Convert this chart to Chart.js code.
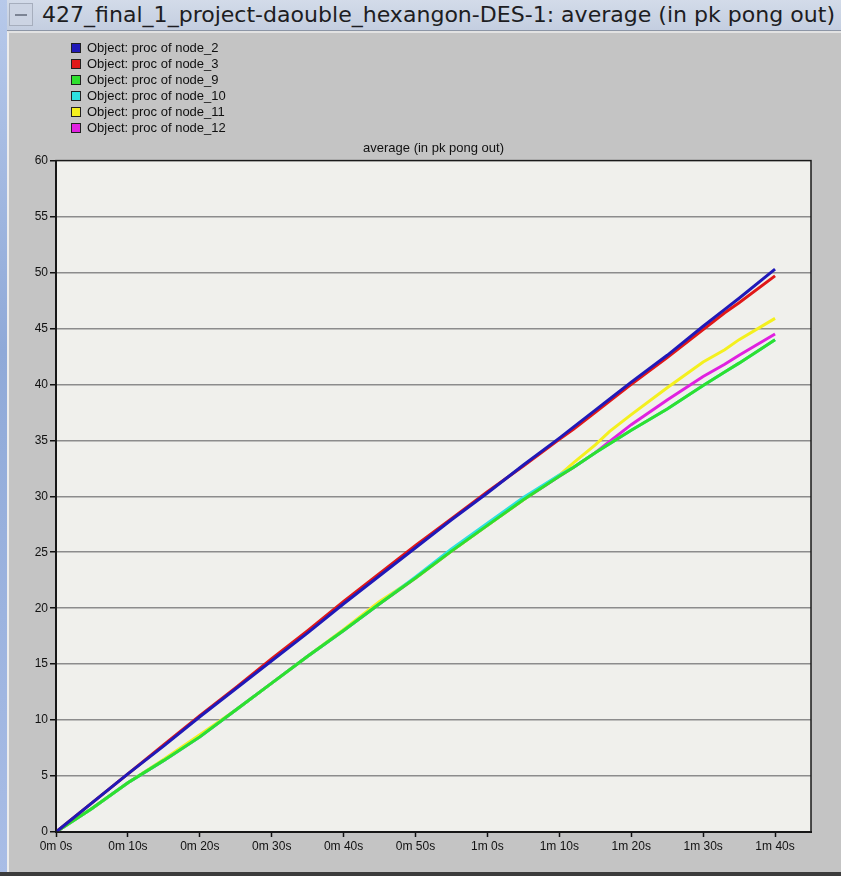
<!DOCTYPE html>
<html>
<head>
<meta charset="utf-8">
<script src="https://cdn.jsdelivr.net/npm/chart.js@4/dist/chart.umd.min.js"></script>
<style>
  html, body { margin: 0; padding: 0; }
  body { width: 841px; height: 876px; position: relative; overflow: hidden; background: #c3c3c3; font-family: "Liberation Sans", Arial, sans-serif; }
  #desk { position: absolute; left: 0; top: 0; width: 7px; height: 876px; background: linear-gradient(#b7c9ea, #8fa9d8 40%, #a9bde6); }
  #titlebar { position: absolute; left: 7px; top: 0; width: 834px; height: 31px; background: linear-gradient(#d3dbe9, #c4cee0); border-bottom: 1px solid #8d96a6; box-sizing: border-box; }
  #sysbox { position: absolute; left: 2px; top: 3px; width: 24px; height: 23px; border: 1px solid #a6aebd; box-sizing: border-box; background: #ccd4e3; }
  #sysbox::after { content: ""; position: absolute; left: 5px; top: 10px; width: 12px; height: 2px; background: #7c8494; }
  #wintitle { position: absolute; left: 35px; top: 1px; font-family: "DejaVu Sans Condensed", "DejaVu Sans", sans-serif; font-size: 21px; line-height: 28px; color: #1d1d22; white-space: nowrap; transform-origin: 0 50%; }
  #frame { position: absolute; left: 7px; top: 31px; width: 834px; height: 841px; background: #c4c4c4; border-left: 2px solid #ececec; border-top: 2px solid #e2e2e2; box-sizing: border-box; }
  #bottombar { position: absolute; left: 0; top: 872px; width: 841px; height: 4px; background: #3c3c3c; }
  #chart { position: absolute; left: 0; top: 0; }
  #legend { position: absolute; left: 71px; top: 40px; font-size: 13px; color: #101010; line-height: 16px; }
  #legend div { display: flex; align-items: center; height: 16px; }
  #legend span.sw { display: inline-block; width: 8px; height: 8px; border: 1px solid #202020; margin-right: 6px; }
</style>
</head>
<body>
<div id="desk"></div>
<div id="titlebar"><div id="sysbox"></div><div id="wintitle">427_final_1_project-daouble_hexangon-DES-1: average (in pk pong out)</div></div>
<div id="frame"></div>
<div id="bottombar"></div>
<canvas id="chart" width="841" height="876"></canvas>
<div id="legend"></div>
<script>
// Simulation time (seconds) at which the statistic was sampled
const timeSec = [0, 5, 10, 15, 20, 25, 30, 35, 40, 45, 50, 55, 60, 65, 70, 72, 75, 77, 80, 85, 90, 93, 95, 100];

// average (in pk pong out) per processor node
const node2  = [0, 2.6, 5.2, 7.7, 10.3, 12.8, 15.3, 17.8, 20.4, 22.9, 25.4, 27.9, 30.3, 32.8, 35.2, 36.2, 37.7, 38.7, 40.2, 42.6, 45.2, 46.7, 47.7, 50.3];
const node3  = [0, 2.6, 5.2, 7.8, 10.4, 12.9, 15.5, 18.0, 20.6, 23.1, 25.6, 28.0, 30.4, 32.7, 35.1, 36.0, 37.5, 38.5, 40.0, 42.4, 44.9, 46.4, 47.3, 49.7];
const node9  = [0, 2.1, 4.4, 6.4, 8.5, 10.9, 13.3, 15.7, 18.0, 20.4, 22.7, 25.1, 27.4, 29.7, 31.8, 32.6, 33.9, 34.7, 35.9, 37.8, 39.9, 41.1, 41.9, 44.0];
const node10 = [0, 2.1, 4.4, 6.4, 8.5, 10.9, 13.3, 15.7, 18.0, 20.4, 22.8, 25.3, 27.6, 29.9, 31.9, 32.6, 33.9, 34.7, 35.9, 37.8, 39.9, 41.1, 41.9, 44.0];
const node11 = [0, 2.1, 4.4, 6.5, 8.7, 10.9, 13.3, 15.7, 18.1, 20.6, 22.7, 25.1, 27.4, 29.7, 31.9, 33.0, 34.6, 35.8, 37.3, 39.7, 42.0, 43.1, 44.0, 45.9];
const node12 = [0, 2.1, 4.4, 6.4, 8.5, 10.9, 13.3, 15.7, 18.0, 20.4, 22.7, 25.1, 27.4, 29.7, 31.8, 32.6, 33.9, 34.9, 36.4, 38.6, 40.7, 41.8, 42.6, 44.5];

const seriesNames = ["Object: proc of node_2", "Object: proc of node_3", "Object: proc of node_9",
                     "Object: proc of node_10", "Object: proc of node_11", "Object: proc of node_12"];
const seriesColors = ["#2019b8", "#e01818", "#2ee02e", "#2ee0e0", "#f4f01e", "#e021e0"];
const seriesValues = [node2, node3, node9, node10, node11, node12];

// x-axis ticks
const tickSeconds = [0, 10, 20, 30, 40, 50, 60, 70, 80, 90, 100];
const tickLabels = ["0m 0s", "0m 10s", "0m 20s", "0m 30s", "0m 40s", "0m 50s",
                    "1m 0s", "1m 10s", "1m 20s", "1m 30s", "1m 40s"];

// window title: squeeze to the width of the title bar text area
(function () {
  const t = document.getElementById('wintitle');
  const w = t.getBoundingClientRect().width;
  t.style.transform = 'scaleX(' + (793 / w) + ')';
})();

// legend
const legendEl = document.getElementById('legend');
seriesNames.forEach((name, i) => {
  const row = document.createElement('div');
  const sw = document.createElement('span');
  sw.className = 'sw';
  sw.style.background = seriesColors[i];
  row.appendChild(sw);
  row.appendChild(document.createTextNode(name));
  legendEl.appendChild(row);
});

// plot background and frame
const plotFrame = {
  id: 'plotFrame',
  beforeDraw(chart) {
    const { ctx, chartArea: a } = chart;
    ctx.save();
    ctx.fillStyle = '#f0f0ec';
    ctx.fillRect(a.left, a.top, a.right - a.left, a.bottom - a.top);
    ctx.restore();
  },
  afterDraw(chart) {
    const { ctx, chartArea: a } = chart;
    ctx.save();
    ctx.strokeStyle = '#1a1a1a';
    ctx.lineWidth = 1.5;
    ctx.strokeRect(a.left, a.top, a.right - a.left, a.bottom - a.top);
    ctx.restore();
  }
};

const datasets = seriesValues.map((vals, i) => ({
  label: seriesNames[i],
  data: vals.map((v, k) => ({ x: timeSec[k], y: v })),
  borderColor: seriesColors[i],
  backgroundColor: seriesColors[i],
  borderWidth: 3,
  pointRadius: 0,
  tension: 0,
  fill: false
}));

new Chart(document.getElementById('chart'), {
  type: 'line',
  data: { datasets },
  plugins: [plotFrame],
  options: {
    responsive: false,
    animation: false,
    layout: { padding: { left: 0, top: 141, right: 30, bottom: 0 } },
    plugins: {
      legend: { display: false },
      tooltip: { enabled: false },
      title: {
        display: true,
        text: 'average (in pk pong out)',
        fullSize: false,
        color: '#111',
        font: { family: 'Liberation Sans', size: 13, weight: 'normal' },
        padding: { top: 0, bottom: 4 }
      }
    },
    scales: {
      x: {
        type: 'linear',
        min: 0,
        max: 105,
        afterBuildTicks: (s) => { s.ticks = tickSeconds.map(v => ({ value: v })); },
        afterFit: (s) => { s.height = 44; },
        ticks: {
          autoSkip: false,
          maxRotation: 0,
          padding: 2,
          color: '#111',
          font: { family: 'Liberation Sans', size: 12 },
          callback: (v, i) => tickLabels[i]
        },
        grid: { drawOnChartArea: false, drawTicks: true, tickLength: 5, tickColor: '#111', tickWidth: 1.5 },
        border: { display: true, color: '#111', width: 2 }
      },
      y: {
        min: 0,
        max: 60,
        afterFit: (s) => { s.width = 56; },
        ticks: {
          stepSize: 5,
          padding: 2,
          color: '#111',
          font: { family: 'Liberation Sans', size: 12 }
        },
        grid: {
          color: (c) => (c.tick && (c.tick.value === 0 || c.tick.value === 60)) ? 'rgba(0,0,0,0)' : '#8c8c8c',
          lineWidth: 1.5,
          tickLength: 6,
          tickColor: '#111',
          tickWidth: 1.5
        },
        border: { display: true, color: '#111', width: 2 }
      }
    }
  }
});
</script>
</body>
</html>
